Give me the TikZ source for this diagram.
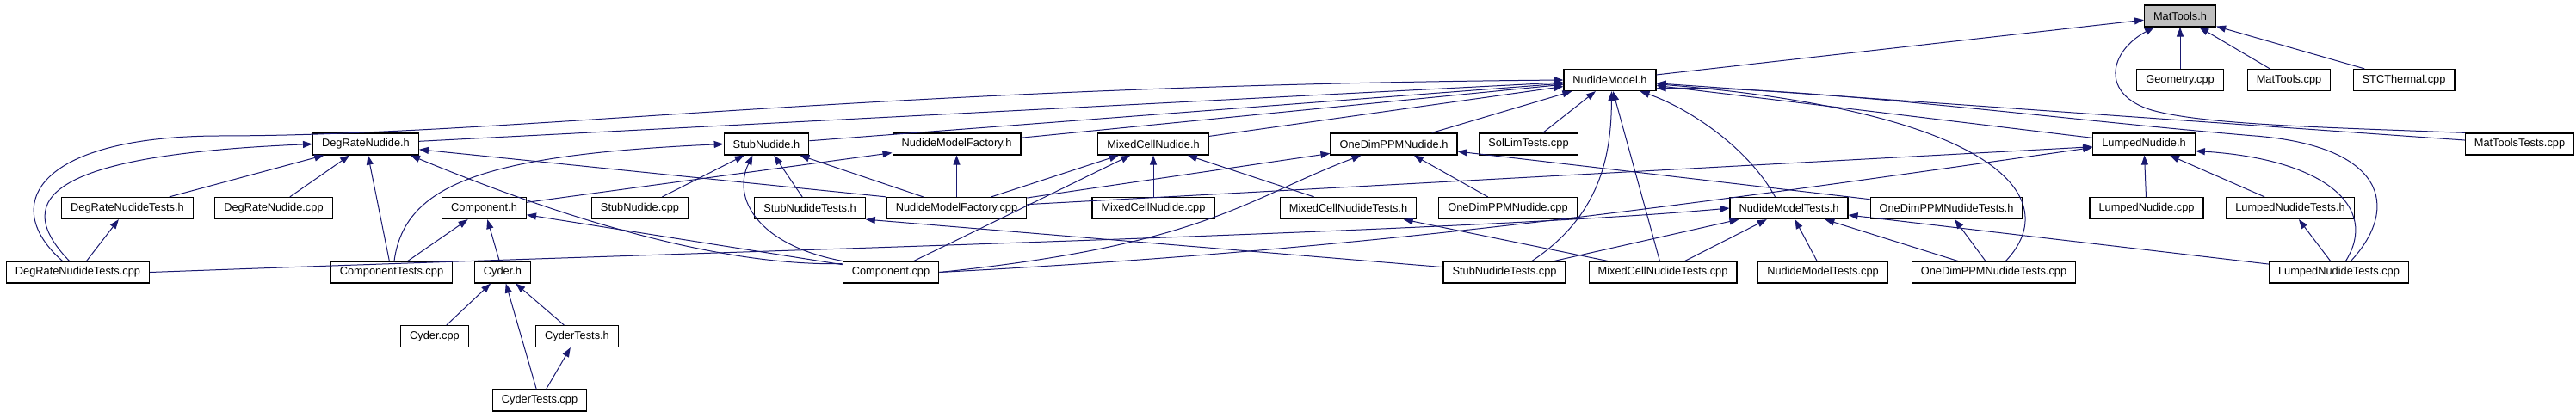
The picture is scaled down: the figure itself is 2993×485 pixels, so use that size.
\documentclass[tikz,border=0pt]{standalone}
\usepackage{fontspec}
\setmainfont{Liberation Sans}
\usetikzlibrary{arrows.meta}
\definecolor{edgeblue}{RGB}{25,25,112}
\definecolor{focusgray}{RGB}{191,191,191}

\begin{document}
\begin{tikzpicture}[x=1pt, y=-1pt,
    file/.style={draw=black, fill=white, line width=1.2pt, minimum height=25pt,
      inner xsep=10.5pt, inner ysep=0pt, font=\fontsize{12.8}{14}\selectfont},
    focus/.style={file, fill=focusgray},
    dep/.style={draw=edgeblue, line width=1pt, -{Triangle[length=11pt,width=8pt]}}]
    \useasboundingbox (0,0) rectangle (2993,485);

    % Row 1
    \node[focus] (matToolsH) at (2533,18.5) {MatTools.h};

    % Row 2
    \node[file] (nudideModelH) at (1870.5,93) {NudideModel.h};
    \node[file] (geometryCpp) at (2533,93) {Geometry.cpp};
    \node[file] (matToolsCpp) at (2659.5,93) {MatTools.cpp};
    \node[file] (stcThermalCpp) at (2793,93) {STCThermal.cpp};

    % Row 3
    \node[file] (degRateNudideH) at (425,167.5) {DegRateNudide.h};
    \node[file] (stubNudideH) at (890.5,167.5) {StubNudide.h};
    \node[file] (factoryH) at (1111.5,167.5) {NudideModelFactory.h};
    \node[file] (mixedCellNudideH) at (1340,167.5) {MixedCellNudide.h};
    \node[file] (oneDimPPMNudideH) at (1619.5,167.5) {OneDimPPMNudide.h};
    \node[file] (solLimTestsCpp) at (1776,167.5) {SolLimTests.cpp};
    \node[file] (lumpedNudideH) at (2491,167.5) {LumpedNudide.h};
    \node[file] (matToolsTestsCpp) at (2927.5,167.5) {MatToolsTests.cpp};

    % Row 4
    \node[file] (degRateTestsH) at (148,242) {DegRateNudideTests.h};
    \node[file] (degRateNudideCpp) at (318,242) {DegRateNudide.cpp};
    \node[file] (componentH) at (562.5,242) {Component.h};
    \node[file] (stubNudideCpp) at (743.5,242) {StubNudide.cpp};
    \node[file] (stubTestsH) at (941,242) {StubNudideTests.h};
    \node[file] (factoryCpp) at (1111.5,242) {NudideModelFactory.cpp};
    \node[file] (mixedCellNudideCpp) at (1340,242) {MixedCellNudide.cpp};
    \node[file] (mixedCellTestsH) at (1566.5,242) {MixedCellNudideTests.h};
    \node[file] (oneDimPPMNudideCpp) at (1752,242) {OneDimPPMNudide.cpp};
    \node[file] (modelTestsH) at (2078.5,242) {NudideModelTests.h};
    \node[file] (oneDimPPMTestsH) at (2261.5,242) {OneDimPPMNudideTests.h};
    \node[file] (lumpedNudideCpp) at (2494,242) {LumpedNudide.cpp};
    \node[file] (lumpedTestsH) at (2661,242) {LumpedNudideTests.h};

    % Row 5
    \node[file] (degRateTestsCpp) at (90.5,316.5) {DegRateNudideTests.cpp};
    \node[file] (componentTestsCpp) at (455,316.5) {ComponentTests.cpp};
    \node[file] (cyderH) at (584,316.5) {Cyder.h};
    \node[file] (componentCpp) at (1035,316.5) {Component.cpp};
    \node[file] (stubTestsCpp) at (1748,316.5) {StubNudideTests.cpp};
    \node[file] (mixedCellTestsCpp) at (1932,316.5) {MixedCellNudideTests.cpp};
    \node[file] (modelTestsCpp) at (2118,316.5) {NudideModelTests.cpp};
    \node[file] (oneDimPPMTestsCpp) at (2316.5,316.5) {OneDimPPMNudideTests.cpp};
    \node[file] (lumpedTestsCpp) at (2717.5,316.5) {LumpedNudideTests.cpp};

    % Rows 6 and 7
    \node[file] (cyderCpp) at (505,391) {Cyder.cpp};
    \node[file] (cyderTestsH) at (670.5,391) {CyderTests.h};
    \node[file] (cyderTestsCpp) at (627,465.5) {CyderTests.cpp};

    % Into MatTools.h
    \draw[dep] (nudideModelH) -- (matToolsH);
    \draw[dep] (geometryCpp) -- (matToolsH);
    \draw[dep] (matToolsCpp) -- (matToolsH);
    \draw[dep] (stcThermalCpp) -- (matToolsH);
    \draw[dep] (matToolsTestsCpp.north west) .. controls (2700,148) and (2560,145) .. (2500,128)
      .. controls (2440,110) and (2450,60) .. ([xshift=12pt]matToolsH.south west);

    % Into NudideModel.h
    \draw[dep] (degRateNudideH) -- (nudideModelH);
    \draw[dep] (stubNudideH) -- (nudideModelH);
    \draw[dep] (factoryH) -- (nudideModelH);
    \draw[dep] (mixedCellNudideH) -- (nudideModelH);
    \draw[dep] (oneDimPPMNudideH) -- (nudideModelH);
    \draw[dep] (solLimTestsCpp) -- (nudideModelH);
    \draw[dep] (lumpedNudideH) -- (nudideModelH);
    \draw[dep] (matToolsTestsCpp) -- (nudideModelH);
    \draw[dep] (mixedCellTestsCpp) -- (nudideModelH);
    \draw[dep] ([xshift=-16pt]modelTestsH.north) .. controls (2030,170) and (1960,125) .. ([xshift=35pt]nudideModelH.south);
    \draw[dep] ([xshift=32pt]stubTestsCpp.north) .. controls (1860,250) and (1872,180) .. ([xshift=2pt]nudideModelH.south);
    \draw[dep] ([xshift=14pt]oneDimPPMTestsCpp.north) .. controls (2400,230) and (2320,130) .. (nudideModelH.-5);
    \draw[dep] ([xshift=14pt]lumpedTestsCpp.north) .. controls (2790,240) and (2770,170) .. (2620,158)
      .. controls (2400,140) and (2100,100) .. (nudideModelH.-10);
    \draw[dep] ([xshift=-18pt]degRateTestsCpp.north) .. controls (0,240) and (40,160) .. (250,158)
      .. controls (600,158) and (1000,100) .. (nudideModelH.west);

    % Into DegRateNudide.h
    \draw[dep] (degRateTestsH) -- (degRateNudideH);
    \draw[dep] (degRateNudideCpp) -- (degRateNudideH);
    \draw[dep] (componentTestsCpp) -- (degRateNudideH);
    \draw[dep] (factoryCpp.north west) -- (degRateNudideH);
    \draw[dep] ([xshift=-10pt]degRateTestsCpp.north) .. controls (10,230) and (60,180) .. (degRateNudideH.west);
    \draw[dep] (componentCpp.170) .. controls (820,310) and (620,240) .. ([xshift=-10pt]degRateNudideH.south east);

    % Into StubNudide.h
    \draw[dep] (stubNudideCpp) -- (stubNudideH);
    \draw[dep] (stubTestsH) -- (stubNudideH);
    \draw[dep] (factoryCpp) -- (stubNudideH);
    \draw[dep] ([xshift=3pt]componentTestsCpp.north) .. controls (470,215) and (560,180) .. (stubNudideH.west);
    \draw[dep] (componentCpp.north west) .. controls (880,285) and (850,230) .. ([xshift=-16pt]stubNudideH.south);

    % Into NudideModelFactory.h
    \draw[dep] (factoryCpp) -- (factoryH);
    \draw[dep] (componentH) -- (factoryH);

    % Into MixedCellNudide.h
    \draw[dep] (factoryCpp) -- (mixedCellNudideH);
    \draw[dep] (componentCpp) -- (mixedCellNudideH);
    \draw[dep] (mixedCellNudideCpp) -- (mixedCellNudideH);
    \draw[dep] (mixedCellTestsH) -- (mixedCellNudideH);

    % Into OneDimPPMNudide.h
    \draw[dep] (factoryCpp) -- (oneDimPPMNudideH);
    \draw[dep] (oneDimPPMNudideCpp) -- (oneDimPPMNudideH);
    \draw[dep] (oneDimPPMTestsH) -- (oneDimPPMNudideH);
    \draw[dep] (componentCpp.east) .. controls (1400,285) and (1450,230) .. ([xshift=-38pt]oneDimPPMNudideH.south);

    % Into LumpedNudide.h
    \draw[dep] (factoryCpp) -- (lumpedNudideH);
    \draw[dep] (componentCpp.east) .. controls (1600,290) and (1950,240) .. ([yshift=-4pt]lumpedNudideH.west);
    \draw[dep] (lumpedNudideCpp) -- (lumpedNudideH);
    \draw[dep] (lumpedTestsH) -- (lumpedNudideH);
    \draw[dep] ([xshift=8pt]lumpedTestsCpp.north) .. controls (2765,240) and (2700,185) .. ([yshift=-8pt]lumpedNudideH.east);

    % Component and Cyder
    \draw[dep] (componentTestsCpp) -- (componentH);
    \draw[dep] (cyderH) -- (componentH);
    \draw[dep] (componentCpp) -- (componentH);
    \draw[dep] (cyderCpp) -- (cyderH);
    \draw[dep] (cyderTestsH) -- (cyderH);
    \draw[dep] (cyderTestsCpp) -- (cyderH);
    \draw[dep] (cyderTestsCpp) -- (cyderTestsH);

    % Test headers
    \draw[dep] (degRateTestsCpp) -- (degRateTestsH);
    \draw[dep] (stubTestsCpp) -- (stubTestsH.south east);
    \draw[dep] (mixedCellTestsCpp) -- (mixedCellTestsH);
    \draw[dep] (oneDimPPMTestsCpp) -- (oneDimPPMTestsH);
    \draw[dep] (lumpedTestsCpp) -- (lumpedTestsH);

    % Into NudideModelTests.h
    \draw[dep] (degRateTestsCpp.east) .. controls (900,290) and (1700,270) .. (modelTestsH.west);
    \draw[dep] (stubTestsCpp) -- (modelTestsH);
    \draw[dep] (mixedCellTestsCpp) -- (modelTestsH);
    \draw[dep] (modelTestsCpp) -- (modelTestsH);
    \draw[dep] (oneDimPPMTestsCpp) -- (modelTestsH);
    \draw[dep] (lumpedTestsCpp) -- (modelTestsH);
\end{tikzpicture}
\end{document}
